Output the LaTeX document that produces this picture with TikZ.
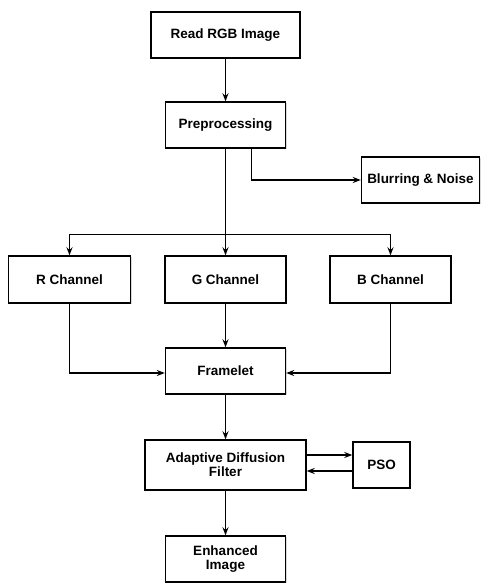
\documentclass[tikz,border=0pt]{standalone}
\usepackage{fontspec}
\setmainfont{Liberation Sans}
\usepackage{tikz}
\usetikzlibrary{arrows.meta,shadows}
\tikzset{>={Stealth[length=8pt,width=6pt]}}
\tikzset{box/.style={draw, line width=1.4pt, fill=white, align=center, inner sep=2pt,
    minimum height=46pt, font=\bfseries\fontsize{13.5}{15}\selectfont,
    drop shadow={shadow xshift=1.2pt, shadow yshift=-1.2pt, opacity=0.3}}}

\begin{document}
\begin{tikzpicture}[x=1pt, y=-1pt, line width=1.4pt]
    \useasboundingbox (0,0) rectangle (481,583);
    \node[box, minimum width=149pt] (read) at (225.5,35) {Read RGB Image};
    \node[box, minimum width=120pt] (pre) at (225.5,125) {Preprocessing};
    \node[box, minimum width=118pt] (blur) at (420.5,180) {Blurring \& Noise};
    \node[box, minimum width=122pt, minimum height=47pt] (rch) at (69.5,279.5) {R Channel};
    \node[box, minimum width=121pt, minimum height=47pt] (gch) at (225.5,279.5) {G Channel};
    \node[box, minimum width=121pt, minimum height=47pt] (bch) at (390.5,279.5) {B Channel};
    \node[box, minimum width=120pt] (frame) at (225.5,371) {Framelet};
    \node[box, minimum width=161pt, minimum height=50pt] (adf) at (225.5,465) {Adaptive Diffusion\\[-1pt] Filter};
    \node[box, minimum width=57pt] (pso) at (381.5,465) {PSO};
    \node[box, minimum width=120pt] (enh) at (225.5,559) {Enhanced\\[-1pt] Image};
    \coordinate (split) at (225.5,234.5);
    \draw[->] (read) -- (pre);
    \draw[->] (pre.south) -- (pre.south |- gch.north);
    \draw[->] ([xshift=26pt]pre.south) |- (blur.west);
    \draw[->] (split) -| (rch.north);
    \draw[->] (split) -| (bch.north);
    \draw[->] (gch.south) -- (gch.south |- frame.north);
    \draw[->] (rch.south) |- ([yshift=-2pt]frame.west);
    \draw[->] (bch.south) |- ([yshift=-2pt]frame.east);
    \draw[->] (frame) -- (adf);
    \draw[->] ([yshift=10pt]adf.east) -- ([yshift=10pt]pso.west);
    \draw[->] ([yshift=-6pt]pso.west) -- ([yshift=-6pt]adf.east);
    \draw[->] (adf) -- (enh);
\end{tikzpicture}
\end{document}
